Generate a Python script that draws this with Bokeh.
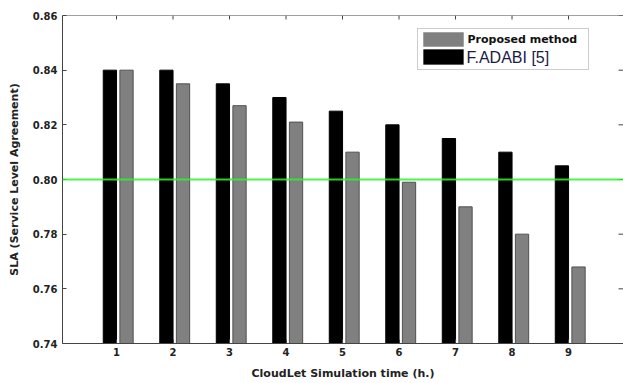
import numpy as np
from bokeh.plotting import figure
from bokeh.models import (ColumnDataSource, Span, FixedTicker, NumeralTickFormatter,
                          BoxAnnotation, Label, Range1d)
from bokeh.embed import file_html
from bokeh.resources import INLINE

# ---- data ----
times = [1, 2, 3, 4, 5, 6, 7, 8, 9]
proposed = [0.840, 0.835, 0.827, 0.821, 0.810, 0.799, 0.790, 0.780, 0.768]
adabi = [0.840, 0.840, 0.835, 0.830, 0.825, 0.820, 0.815, 0.810, 0.805]
y_ticks = [0.74, 0.76, 0.78, 0.80, 0.82, 0.84, 0.86]
threshold = 0.80
y_base = 0.74

X0, X1 = 0.044, 9.973
Y0, Y1 = 0.74, 0.86

# frame pixel box (page coords) used for placing the hand-made legend
FL, FT, FW, FH = 62, 15, 561, 328
def dx(px):
    return X0 + (px - FL) / FW * (X1 - X0)
def dy(py):
    return Y1 - (py - FT) / FH * (Y1 - Y0)

src = ColumnDataSource(dict(
    t=times,
    xa=np.array(times) - 0.117,
    xp=np.array(times) + 0.177,
    adabi=adabi,
    proposed=proposed,
))

p = figure(width=623, height=382, output_backend="svg", toolbar_location=None,
           x_range=Range1d(X0, X1), y_range=Range1d(Y0, Y1),
           min_border_left=62, min_border_right=0, min_border_top=15,
           min_border_bottom=39,
           background_fill_color="white", border_fill_color="white")

p.xgrid.visible = False
p.ygrid.visible = False
p.outline_line_color = None

p.vbar(x="xa", top="adabi", bottom=y_base, width=0.235, source=src,
       fill_color="black", line_color="black")
p.vbar(x="xp", top="proposed", bottom=y_base, width=0.235, source=src,
       fill_color="#808080", line_color="#505050", line_width=1)

p.add_layout(Span(location=threshold, dimension="width", line_color="#33ee33",
                  line_width=2, line_alpha=0.85))
# top border of the axes box (right side is cut off in the original)
p.add_layout(Span(location=Y1, dimension="width", line_color="#444444", line_width=1))

# inward tick marks on the top and right edges
tick_len_y = 4 / FH * (Y1 - Y0)
tick_len_x = 5 / FW * (X1 - X0)
p.segment(x0=times, y0=[Y1] * len(times), x1=times, y1=[Y1 - tick_len_y] * len(times),
          line_color="#444444", line_width=1)
p.segment(x0=[X1] * len(y_ticks), y0=y_ticks, x1=[X1 - tick_len_x] * len(y_ticks),
          y1=y_ticks, line_color="#444444", line_width=1)

font = "DejaVu Sans"
for ax in (p.xaxis[0], p.yaxis[0]):
    ax.axis_line_color = "#444444"
    ax.major_tick_line_color = "#444444"
    ax.major_tick_in = 4
    ax.major_tick_out = 0
    ax.minor_tick_line_color = None
    ax.major_label_text_font = font
    ax.major_label_text_font_style = "bold"
    ax.major_label_text_font_size = "10px"
    ax.major_label_text_color = "#222222"
    ax.axis_label_text_font = font
    ax.axis_label_text_font_style = "bold"
    ax.axis_label_text_font_size = "11px"
    ax.axis_label_text_color = "#222222"

p.xaxis.ticker = FixedTicker(ticks=times)
p.xaxis.axis_label = "CloudLet Simulation time (h.)"
p.xaxis.major_label_standoff = 4
p.xaxis.axis_label_standoff = 8

p.yaxis.ticker = FixedTicker(ticks=y_ticks)
p.yaxis.formatter = NumeralTickFormatter(format="0.00")
p.yaxis.axis_label = "SLA (Service Level Agreement)"
p.yaxis.major_label_standoff = 5
p.yaxis.axis_label_standoff = 9

# ---- legend (hand-made) ----
p.add_layout(BoxAnnotation(left=dx(417), right=dx(588), top=dy(28), bottom=dy(69),
                           fill_color="white", fill_alpha=1, line_color="#555555",
                           line_width=1, level="overlay"))
p.add_layout(BoxAnnotation(left=dx(423), right=dx(463), top=dy(32), bottom=dy(46),
                           fill_color="#808080", fill_alpha=1, line_color="#606060",
                           line_width=1, level="overlay"))
p.add_layout(BoxAnnotation(left=dx(423), right=dx(463), top=dy(49), bottom=dy(64),
                           fill_color="black", fill_alpha=1, line_color="black",
                           line_width=1, level="overlay"))
p.add_layout(Label(x=dx(467), y=dy(39), text="Proposed method", text_font=font,
                   text_font_style="bold", text_font_size="11px", text_color="#111111",
                   text_baseline="middle", level="overlay"))
p.add_layout(Label(x=dx(466), y=dy(57), text="F.ADABI [5]", text_font="Liberation Sans",
                   text_font_size="16px", text_color="#1a1a48",
                   text_baseline="middle", level="overlay"))

open("out.html", "w").write(file_html(p, INLINE))
